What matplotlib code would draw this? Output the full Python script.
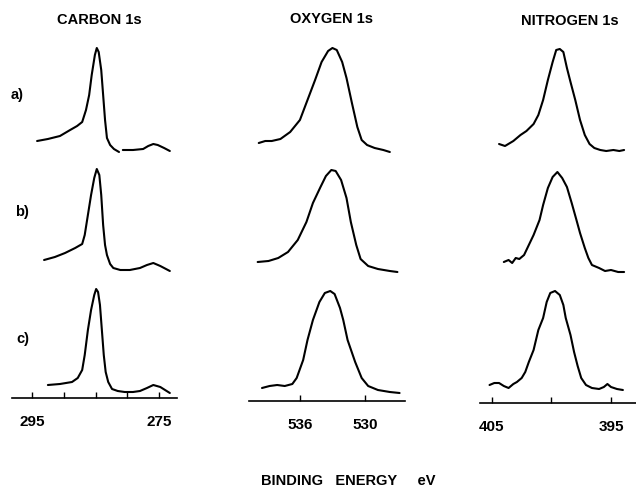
import numpy as np
import matplotlib
matplotlib.use("Agg")
import matplotlib.pyplot as plt

plt.rcParams['font.family'] = ['Liberation Sans', 'DejaVu Sans']

# ---------------- data (binding energy eV, normalised intensity) ----------------
# Carbon 1s
c_a_e = [294.2, 292.5, 290.6, 289.0, 287.9, 287.1, 286.5, 286.0, 285.6, 285.1, 284.8, 284.5,
         284.1, 283.8, 283.5, 283.2, 282.7, 282.1, 281.3, np.nan, 280.7, 279.1, 277.5, 276.7,
         275.9, 275.2, 274.2, 273.3]
c_a_i = [0.11, 0.13, 0.16, 0.22, 0.26, 0.30, 0.42, 0.57, 0.77, 0.97, 1.04, 1.00,
         0.82, 0.57, 0.32, 0.14, 0.07, 0.03, 0.00, np.nan, 0.02, 0.02, 0.03, 0.06,
         0.08, 0.07, 0.04, 0.01]
c_b_e = [293.1, 291.4, 289.8, 288.2, 287.1, 286.7, 286.2, 285.7, 285.2, 284.8, 284.4, 284.1,
         283.8, 283.5, 283.2, 282.7, 282.2, 281.1, 279.6, 278.0, 276.9, 275.9, 274.8, 273.3]
c_b_i = [0.11, 0.14, 0.18, 0.23, 0.27, 0.36, 0.56, 0.76, 0.93, 1.02, 0.96, 0.76,
         0.46, 0.26, 0.16, 0.07, 0.03, 0.01, 0.01, 0.03, 0.06, 0.08, 0.05, 0.00]
c_c_e = [292.5, 290.6, 288.7, 287.8, 287.1, 286.7, 286.2, 285.7, 285.2, 284.9, 284.6, 284.3,
         284.0, 283.7, 283.4, 283.0, 282.4, 281.5, 280.4, 279.1, 278.0, 276.9, 275.9, 274.8, 273.3]
c_c_i = [0.07, 0.08, 0.10, 0.14, 0.22, 0.37, 0.62, 0.82, 0.97, 1.03, 1.00, 0.87,
         0.62, 0.37, 0.20, 0.10, 0.03, 0.01, 0.00, 0.00, 0.01, 0.04, 0.07, 0.05, -0.01]

# Oxygen 1s
o_a_e = [539.8, 539.2, 538.6, 537.8, 536.9, 536.0, 535.3, 534.6, 534.0, 533.4, 533.0, 532.6,
         532.1, 531.7, 531.2, 530.7, 530.3, 529.8, 529.1, 528.3, 527.7]
o_a_i = [0.09, 0.11, 0.11, 0.13, 0.20, 0.32, 0.52, 0.72, 0.90, 1.01, 1.04, 1.02,
         0.90, 0.74, 0.49, 0.25, 0.12, 0.07, 0.04, 0.02, 0.00]
o_b_e = [539.9, 538.9, 538.0, 537.1, 536.2, 535.4, 534.8, 534.1, 533.6, 533.1, 532.7, 532.2,
         531.7, 531.3, 530.8, 530.4, 529.7, 528.8, 527.7, 527.0]
o_b_i = [0.09, 0.10, 0.13, 0.19, 0.31, 0.49, 0.68, 0.84, 0.95, 1.01, 1.00, 0.91,
         0.73, 0.49, 0.26, 0.12, 0.05, 0.02, 0.00, -0.01]
o_c_e = [539.5, 538.8, 538.1, 537.4, 536.7, 536.3, 535.7, 535.3, 534.8, 534.2, 533.7, 533.2,
         532.8, 532.3, 532.0, 531.6, 530.9, 530.3, 529.7, 528.8, 527.7, 526.8]
o_c_i = [0.04, 0.06, 0.07, 0.06, 0.08, 0.14, 0.32, 0.52, 0.72, 0.90, 0.99, 1.01,
         0.98, 0.84, 0.72, 0.52, 0.30, 0.14, 0.06, 0.02, 0.00, -0.01]

# Nitrogen 1s
n_a_e = [404.4, 403.9, 403.2, 402.6, 402.1, 401.5, 401.1, 400.7, 400.3, 399.9, 399.6, 399.3,
         399.0, 398.7, 398.4, 398.0, 397.6, 397.2, 396.8, 396.4, 395.9, 395.4, 394.8, 394.3, 393.9]
n_a_i = [0.08, 0.06, 0.11, 0.17, 0.21, 0.28, 0.37, 0.52, 0.72, 0.90, 1.02, 1.03,
         1.00, 0.84, 0.70, 0.52, 0.32, 0.17, 0.08, 0.04, 0.02, 0.01, 0.02, 0.01, 0.02]
n_b_e = [404.0, 403.6, 403.3, 403.0, 402.7, 402.3, 401.9, 401.5, 401.0, 400.7, 400.3, 399.9,
         399.5, 399.1, 398.7, 398.3, 397.9, 397.6, 397.2, 396.9, 396.6, 396.0, 395.5, 395.0,
         394.4, 393.9]
n_b_i = [0.09, 0.11, 0.08, 0.13, 0.12, 0.16, 0.26, 0.36, 0.51, 0.66, 0.83, 0.94,
         0.99, 0.93, 0.84, 0.68, 0.51, 0.38, 0.23, 0.13, 0.06, 0.03, 0.00, 0.01,
         -0.01, -0.01]
n_c_e = [405.2, 404.8, 404.4, 404.0, 403.6, 403.2, 402.9, 402.5, 402.2, 401.9, 401.5, 401.1,
         400.7, 400.4, 400.1, 399.7, 399.3, 399.0, 398.8, 398.4, 398.1, 397.8, 397.5, 397.1,
         396.6, 396.0, 395.6, 395.3, 395.0, 394.5, 394.0]
n_c_i = [0.07, 0.09, 0.09, 0.06, 0.04, 0.08, 0.10, 0.14, 0.20, 0.30, 0.42, 0.62,
         0.74, 0.90, 0.99, 1.01, 0.97, 0.87, 0.74, 0.57, 0.40, 0.26, 0.14, 0.07,
         0.04, 0.03, 0.05, 0.08, 0.05, 0.03, 0.02]

titles = ["CARBON 1s", "OXYGEN 1s", "NITROGEN 1s"]
row_labels = ["a)", "b)", "c)"]
c_ticks = [295, 290, 285, 280, 275]
c_ticklabels = ["295", "", "", "", "275"]
o_ticks = [536, 530]
o_ticklabels = ["536", "530"]
n_ticks = [405, 400, 395]
n_ticklabels = ["405", "", "395"]
xlabel = "BINDING   ENERGY     eV"

# ---------------- layout ----------------
W, H = 636, 487
fig = plt.figure(figsize=(W / 100, H / 100), dpi=100)

row_offsets = [2.40, 1.21, 0.0]   # vertical offsets of rows a, b, c
top_px = 40

columns = [
    dict(x0=12, x1=177, axis_y=398, xlim=(298.15, 272.17),
         spectra=[(c_a_e, c_a_i), (c_b_e, c_b_i), (c_c_e, c_c_i)],
         ticks=c_ticks, labels=c_ticklabels, title=titles[0], title_x=99, title_y=20),
    dict(x0=249, x1=405, axis_y=401, xlim=(540.7, 526.3),
         spectra=[(o_a_e, o_a_i), (o_b_e, o_b_i), (o_c_e, o_c_i)],
         ticks=o_ticks, labels=o_ticklabels, title=titles[1], title_x=331, title_y=19),
    dict(x0=480, x1=636, axis_y=403, xlim=(406.0, 392.9),
         spectra=[(n_a_e, n_a_i), (n_b_e, n_b_i), (n_c_e, n_c_i)],
         ticks=n_ticks, labels=n_ticklabels, title=titles[2], title_x=570, title_y=21),
]

for col in columns:
    left = col['x0'] / W
    width = (col['x1'] - col['x0']) / W
    bottom = 1 - col['axis_y'] / H
    height = (col['axis_y'] - top_px) / H
    ax = fig.add_axes([left, bottom, width, height])
    ylow = -(col['axis_y'] - 392) / 100.0
    ax.set_ylim(ylow, ylow + (col['axis_y'] - top_px) / 100.0)
    ax.set_xlim(*col['xlim'])
    for (e, i), off in zip(col['spectra'], row_offsets):
        ax.plot(e, np.array(i, dtype=float) + off, color='black', lw=1.5,
                solid_joinstyle='round', solid_capstyle='round')
    for s in ['top', 'right', 'left']:
        ax.spines[s].set_visible(False)
    ax.spines['bottom'].set_linewidth(1.2)
    ax.set_yticks([])
    ax.set_xticks(col['ticks'])
    ax.set_xticklabels(col['labels'], fontsize=11, fontweight='bold')
    ax.tick_params(axis='x', direction='in', length=4, width=1.0, pad=12)
    ax.patch.set_alpha(0)
    fig.text(col['title_x'] / W, 1 - col['title_y'] / H, col['title'],
             ha='center', va='center', fontsize=10.5, fontweight='bold')

for lab, (px, py) in zip(row_labels, [(17, 95), (22, 212), (23, 339)]):
    fig.text(px / W, 1 - py / H, lab, ha='center', va='center',
             fontsize=10.5, fontweight='bold')

fig.text(348 / W, 1 - 481 / H, xlabel, ha='center', va='center',
         fontsize=10.5, fontweight='bold')

fig.savefig("out.png", dpi=100, facecolor='white')
